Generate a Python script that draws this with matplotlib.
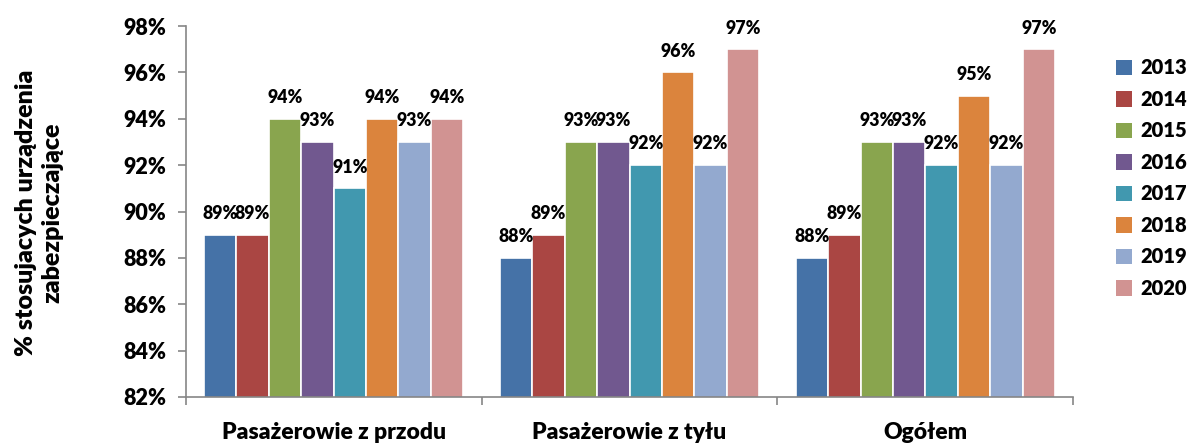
import matplotlib.pyplot as plt
import numpy as np

# Data
categories = ['Pasażerowie z przodu', 'Pasażerowie z tyłu', 'Ogółem']
years = ['2013', '2014', '2015', '2016', '2017', '2018', '2019', '2020']
values = {
    '2013': [89, 88, 88],
    '2014': [89, 89, 89],
    '2015': [94, 93, 93],
    '2016': [93, 93, 93],
    '2017': [91, 92, 92],
    '2018': [94, 96, 95],
    '2019': [93, 92, 92],
    '2020': [94, 97, 97],
}
colors = ['#4572A7', '#AA4643', '#89A54E', '#71588F',
          '#4198AF', '#DB843D', '#93A9CF', '#D19392']
y_ticks = [82, 84, 86, 88, 90, 92, 94, 96, 98]

FONT = 'Lato'
W = 'heavy'
GRAY = '#868686'

fig = plt.figure(figsize=(11.9, 4.43), dpi=100)
ax = fig.add_axes([0.156, 0.104, 0.746, 0.837])

n = len(years)
slot = 0.876 / n
x = np.arange(len(categories))
for i, (yr, c) in enumerate(zip(years, colors)):
    pos = x - 0.438 + slot * (i + 0.5)
    ax.bar(pos, values[yr], width=slot, color=c,
           edgecolor='white', linewidth=1.2, label=yr)
    for xp, v in zip(pos, values[yr]):
        ax.text(xp, v + 0.55, f'{v}%', ha='center', va='bottom',
                fontsize=12.8, fontweight=W, family=FONT)

ax.set_ylim(82, 98)
ax.set_xlim(-0.5, 2.5)
ax.set_yticks(y_ticks)
ax.set_yticklabels([f'{t}%' for t in y_ticks], fontsize=15.5,
                   fontweight=W, family=FONT)
ax.set_xticks([-0.5, 0.5, 1.5, 2.5])
ax.set_xticklabels([])
ax.set_xticks(x, minor=True)
ax.set_xticklabels(categories, minor=True, fontsize=16.5,
                   fontweight=W, family=FONT)
ax.tick_params(axis='x', which='minor', length=0, pad=18)
ax.tick_params(axis='x', which='major', length=6, color=GRAY, width=1.2)
ax.tick_params(axis='y', length=6, color=GRAY, width=1.2, pad=8)

for s in ['top', 'right']:
    ax.spines[s].set_visible(False)
for s in ['left', 'bottom']:
    ax.spines[s].set_color(GRAY)
    ax.spines[s].set_linewidth(1.2)

fig.text(0.033, 0.519, '% stosujacych urządzenia\nzabezpieczające',
         rotation=90, ha='center', va='center', fontsize=18,
         fontweight=W, family=FONT, linespacing=1.25)

handles, labels = ax.get_legend_handles_labels()
leg = fig.legend(handles, labels, loc='upper left',
                 bbox_to_anchor=(0.938, 0.868), frameon=False,
                 prop={'family': FONT, 'weight': W, 'size': 14.5},
                 handlelength=0.8, handleheight=0.8, handletextpad=0.4,
                 labelspacing=0.62, borderaxespad=0, borderpad=0)
for h in leg.legend_handles:
    h.set_edgecolor('none')

fig.savefig('out.png', dpi=100)
